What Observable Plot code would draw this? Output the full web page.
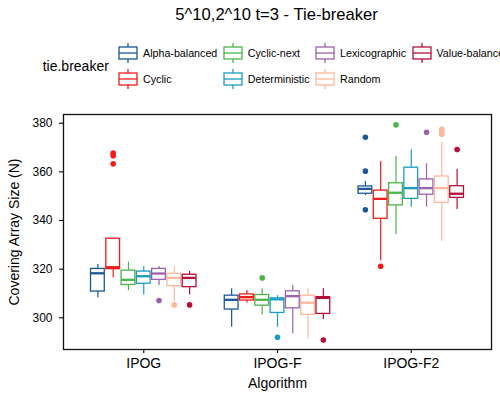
<!DOCTYPE html>
<html>
<head>
<meta charset="utf-8">
<script src="https://cdn.jsdelivr.net/npm/d3@7"></script>
<script src="https://cdn.jsdelivr.net/npm/@observablehq/plot@0.6"></script>
<style>
  body { margin: 0; width: 500px; height: 400px; overflow: hidden; background: #fff;
         font-family: "Liberation Sans", Arial, Helvetica, sans-serif; color: #000; }
  #header { position: relative; width: 500px; height: 100px; overflow: hidden; }
  #title { position: absolute; left: 0; width: 553px; top: 7px; text-align: center;
           font-size: 16.6px; line-height: 1; white-space: nowrap; }
  #legend-title { position: absolute; left: 42.7px; top: 59px; font-size: 14px; line-height: 1; }
  #legend { position: absolute; left: 118px; top: 40.5px; display: grid;
            grid-template-rows: 25.7px 25.7px; grid-auto-flow: column; column-gap: 5.5px; }
  .key { display: flex; align-items: center; white-space: nowrap; font-size: 10.7px; }
  .key svg { margin-right: 5px; flex: none; }
  #chart svg { display: block; }
</style>
</head>
<body>
<div id="header">
  <div id="title"></div>
  <div id="legend-title"></div>
  <div id="legend"></div>
</div>
<div id="chart"></div>
<script>
const chartTitle = "5^10,2^10 t=3 - Tie-breaker";
const legendTitle = "tie.breaker";
const xTitle = "Algorithm";
const yTitle = "Covering Array Size (N)";

const algorithms = ["IPOG", "IPOG-F", "IPOG-F2"];
const tieBreakers = ["Alpha-balanced", "Cyclic", "Cyclic-next", "Deterministic",
                     "Lexicographic", "Random", "Value-balanced"];
const colors = ["#1b5799", "#f21b1b", "#4bb54a", "#1a9dc1", "#9a62ad", "#fdb89a", "#b5103c"];
const yTicks = [300, 320, 340, 360, 380];

// rows: algorithms, columns: tie-breakers
const whiskerLow = [
  [308.2, 316.4, 311.2, 309.4, 313.3, 306.6, 309.4],
  [296.1, 306.1, 301.2, 296.1, 293.4, 291.3, 299.3],
  [350.3, 323.5, 334.2, 345.5, 345.5, 331.4, 344.5]
];
const q1 = [
  [310.8, 320.0, 313.5, 314.0, 315.6, 313.0, 312.6],
  [303.4, 307.1, 305.0, 302.0, 303.9, 301.2, 301.6],
  [351.0, 340.7, 346.2, 348.9, 350.6, 347.3, 349.3]
];
const median = [
  [318.3, 320.8, 315.6, 317.1, 318.2, 316.4, 316.4],
  [307.4, 308.5, 307.4, 307.6, 308.9, 306.2, 308.2],
  [353.0, 348.9, 351.4, 353.3, 353.3, 353.3, 351.0]
];
const q3 = [
  [320.1, 332.5, 319.4, 319.0, 320.1, 318.1, 317.7],
  [309.1, 309.6, 309.4, 308.0, 310.9, 309.1, 308.5],
  [354.0, 352.3, 355.3, 361.7, 356.9, 358.1, 354.1]
];
const whiskerHigh = [
  [321.9, 332.5, 322.9, 321.1, 321.1, 321.1, 319.0],
  [311.9, 311.2, 311.9, 309.1, 313.3, 311.9, 311.9],
  [356.0, 364.3, 366.3, 369.1, 363.3, 372.2, 361.0]
];
const outlierAlgorithm = ["IPOG", "IPOG", "IPOG", "IPOG", "IPOG", "IPOG",
  "IPOG-F", "IPOG-F", "IPOG-F",
  "IPOG-F2", "IPOG-F2", "IPOG-F2", "IPOG-F2", "IPOG-F2", "IPOG-F2", "IPOG-F2", "IPOG-F2", "IPOG-F2", "IPOG-F2"];
const outlierTie = ["Cyclic", "Cyclic", "Cyclic", "Lexicographic", "Random", "Value-balanced",
  "Cyclic-next", "Deterministic", "Value-balanced",
  "Alpha-balanced", "Alpha-balanced", "Alpha-balanced", "Cyclic", "Cyclic-next", "Lexicographic",
  "Random", "Random", "Random", "Value-balanced"];
const outlierValue = [367.7, 366.6, 363.3, 307.1, 305.3, 305.3,
  316.4, 292.0, 290.9,
  374.2, 360.3, 344.4, 321.2, 379.3, 376.3, 377.5, 376.5, 375.5, 369.2];

// dodge (as ggplot's position_dodge2): groups sit at integer positions
const dodgeWidth = 0.8, boxShrink = 0.9;
const slot = dodgeWidth / tieBreakers.length;
const center = (a, t) => algorithms.indexOf(a) + (tieBreakers.indexOf(t) - (tieBreakers.length - 1) / 2) * slot;

const boxes = [];
algorithms.forEach((a, i) => tieBreakers.forEach((t, j) => {
  const c = center(a, t);
  boxes.push({
    algorithm: a, tie: t, xc: c, xl: c - slot * boxShrink / 2, xr: c + slot * boxShrink / 2,
    low: whiskerLow[i][j], q1: q1[i][j], med: median[i][j], q3: q3[i][j], high: whiskerHigh[i][j]
  });
}));
const outliers = outlierValue.map((v, k) => ({
  algorithm: outlierAlgorithm[k], tie: outlierTie[k], value: v,
  xc: center(outlierAlgorithm[k], outlierTie[k])
}));

// header
document.getElementById("title").textContent = chartTitle;
document.getElementById("legend-title").textContent = legendTitle;
const legend = d3.select("#legend");
tieBreakers.forEach((t, j) => {
  const key = legend.append("div").attr("class", "key");
  const s = key.append("svg").attr("width", 20).attr("height", 22);
  s.append("line").attr("x1", 10).attr("x2", 10).attr("y1", 1).attr("y2", 21)
    .attr("stroke", colors[j]).attr("stroke-width", 1.3);
  s.append("rect").attr("x", 1).attr("y", 5).attr("width", 18).attr("height", 12)
    .attr("fill", "white").attr("stroke", colors[j]).attr("stroke-width", 1.3);
  s.append("line").attr("x1", 1).attr("x2", 19).attr("y1", 11).attr("y2", 11)
    .attr("stroke", colors[j]).attr("stroke-width", 1.3);
  key.append("span").text(t);
});

const chart = Plot.plot({
  width: 500,
  height: 300,
  marginTop: 14,
  marginBottom: 51,
  marginLeft: 63,
  marginRight: 9,
  style: {fontFamily: '"Liberation Sans", Arial, Helvetica, sans-serif', background: "white", color: "#000"},
  x: {domain: [-0.6, algorithms.length - 0.4]},
  y: {domain: [286.97, 383.58]},
  color: {domain: tieBreakers, range: colors},
  marks: [
    Plot.ruleX(boxes, {x: "xc", y1: "low", y2: "high", stroke: "tie", strokeWidth: 1.2}),
    Plot.rect(boxes, {x1: "xl", x2: "xr", y1: "q1", y2: "q3", fill: "white", stroke: "tie", strokeWidth: 1.3}),
    Plot.ruleY(boxes, {x1: "xl", x2: "xr", y: "med", stroke: "tie", strokeWidth: 2.3}),
    Plot.dot(outliers, {x: "xc", y: "value", fill: "tie", r: 2.8}),
    Plot.frame({stroke: "#111", strokeWidth: 1.3}),
    Plot.axisY({ticks: yTicks, tickSize: 4, tickPadding: 7, fontSize: 12, label: null, strokeWidth: 1.1}),
    Plot.axisX({ticks: algorithms.map((a, i) => i), tickFormat: i => algorithms[i],
                tickSize: 4, tickPadding: 5, fontSize: 14, label: null, strokeWidth: 1.1}),
    Plot.text([xTitle], {frameAnchor: "bottom", lineAnchor: "top", dy: 28.7, fontSize: 14, text: d => d}),
    Plot.text([yTitle], {frameAnchor: "left", textAnchor: "middle", lineAnchor: "middle", rotate: -90, dx: -48.5, fontSize: 14, text: d => d})
  ]
});
document.getElementById("chart").appendChild(chart);
</script>
</body>
</html>
